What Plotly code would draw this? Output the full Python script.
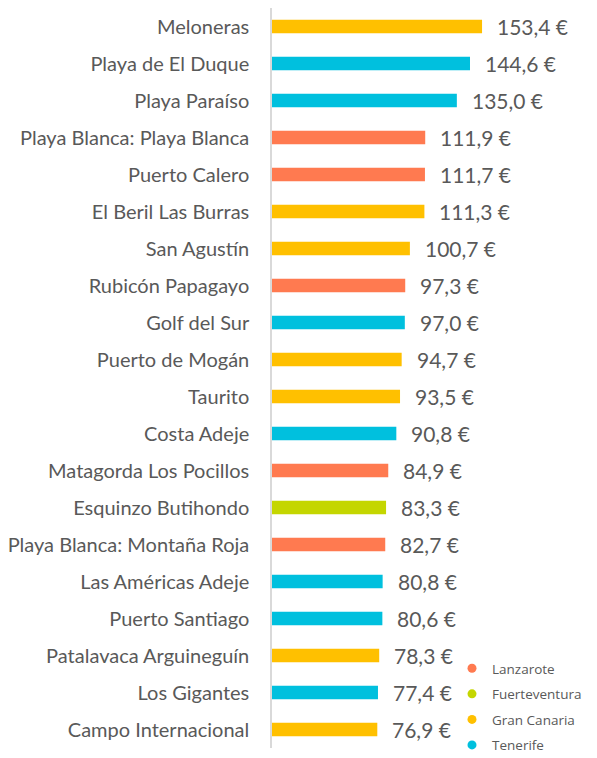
import plotly.graph_objects as go

categories = ["Meloneras", "Playa de El Duque", "Playa Paraíso", "Playa Blanca: Playa Blanca",
              "Puerto Calero", "El Beril Las Burras", "San Agustín", "Rubicón Papagayo",
              "Golf del Sur", "Puerto de Mogán", "Taurito", "Costa Adeje",
              "Matagorda Los Pocillos", "Esquinzo Butihondo", "Playa Blanca: Montaña Roja",
              "Las Américas Adeje", "Puerto Santiago", "Patalavaca Arguineguín",
              "Los Gigantes", "Campo Internacional"]
values = [153.4, 144.6, 135.0, 111.9, 111.7, 111.3, 100.7, 97.3, 97.0, 94.7,
          93.5, 90.8, 84.9, 83.3, 82.7, 80.8, 80.6, 78.3, 77.4, 76.9]
islands = ["Gran Canaria", "Tenerife", "Tenerife", "Lanzarote", "Lanzarote", "Gran Canaria",
           "Gran Canaria", "Lanzarote", "Tenerife", "Gran Canaria", "Gran Canaria", "Tenerife",
           "Lanzarote", "Fuerteventura", "Lanzarote", "Tenerife", "Tenerife", "Gran Canaria",
           "Tenerife", "Gran Canaria"]
island_order = ["Lanzarote", "Fuerteventura", "Gran Canaria", "Tenerife"]
island_colors = {"Lanzarote": "#FF7A50", "Fuerteventura": "#C4D600",
                 "Gran Canaria": "#FFC000", "Tenerife": "#00C0DE"}

fig = go.Figure()
for isl in island_order:
    ys = [c for c, i in zip(categories, islands) if i == isl]
    xs = [v for v, i in zip(values, islands) if i == isl]
    fig.add_trace(go.Bar(x=xs, y=ys, orientation="h", marker_color=island_colors[isl],
                         marker_line_width=0, showlegend=False, name=isl))
for isl in island_order:
    fig.add_trace(go.Scatter(x=[None], y=[None], mode="markers", name=isl,
                             legendgroup=isl,
                             marker=dict(symbol="circle", size=9, color=island_colors[isl])))

for c, v in zip(categories, values):
    fig.add_annotation(x=v, y=c, xref="x", yref="y",
                       text=(f"{v:.1f}".replace(".", ",") + " €"),
                       showarrow=False, xanchor="left", xshift=13,
                       font=dict(family="Lato", size=21, color="#595959"))

fig.update_layout(
    width=597, height=758,
    margin=dict(l=264, r=13, t=0, b=18, autoexpand=False),
    paper_bgcolor="white", plot_bgcolor="white",
    barmode="relative", bargap=0.64,
    font=dict(family="Lato", color="#595959"),
    xaxis=dict(range=[0, 233.7], visible=False),
    yaxis=dict(categoryorder="array", categoryarray=categories[::-1],
               showline=True, linecolor="#D9D9D9", linewidth=1.5, automargin=False,
               ticks="", showgrid=False, ticklabelstandoff=17,
               tickfont=dict(family="Lato", size=20, color="#595959")),
    legend=dict(xref="container", yref="container", x=444 / 597, y=1 - 645 / 758,
                xanchor="left", yanchor="top",
                font=dict(family="Open Sans", size=13.5, color="#595959"),
                tracegroupgap=5, itemwidth=30, bgcolor="rgba(0,0,0,0)"),
)
fig.write_html("out.html")
